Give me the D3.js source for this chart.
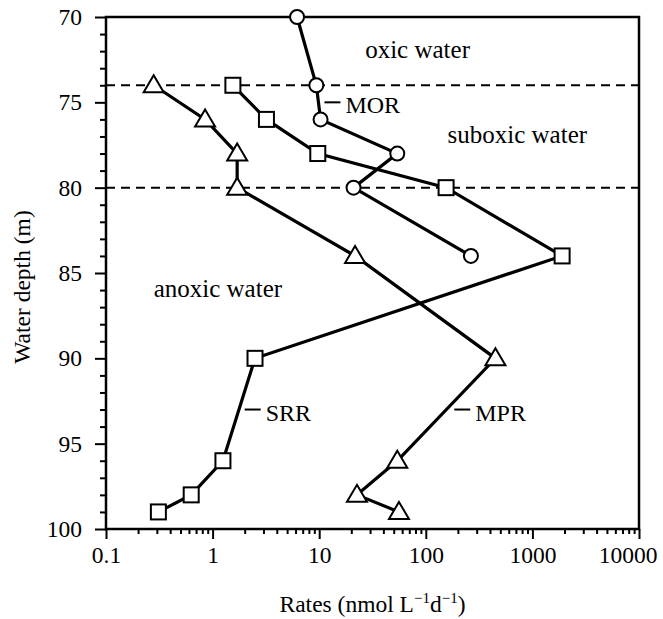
<!DOCTYPE html>
<html>
<head>
<meta charset="utf-8">
<script src="https://cdn.jsdelivr.net/npm/d3@7"></script>
<style>
  body { margin: 0; background: #fff; }
  text { font-family: "Liberation Serif", "Times New Roman", serif; fill: #000; }
</style>
</head>
<body>
<svg id="chart" width="663" height="619"></svg>
<script>
"use strict";

const width = 663
const height = 619
const margin = { top: 17, right: 24, bottom: 90, left: 106 }

// depths (m) and rates (nmol L-1 d-1)
const morDepth = [70, 74, 76, 78, 80, 84]
const morRate = [6.2, 9.4, 10.3, 54, 21, 265]

const srrDepth = [74, 76, 78, 80, 84, 90, 96, 98, 99]
const srrRate = [1.55, 3.2, 9.7, 155, 1900, 2.5, 1.25, 0.63, 0.31]

const mprDepth = [74, 76, 78, 80, 84, 90, 96, 98, 99]
const mprRate = [0.28, 0.85, 1.7, 1.7, 21.7, 450, 54, 22.6, 56]

const boundaries = [74, 80]
const xTicks = [0.1, 1, 10, 100, 1000, 10000]
const yTicks = [70, 75, 80, 85, 90, 95, 100]

const svg = d3.select("#chart")

const x = d3.scaleLog()
    .domain([0.1, 10000])
    .range([margin.left, width - margin.right])

const y = d3.scaleLinear()
    .domain([70, 100])
    .range([margin.top, height - margin.bottom])

// minor ticks
const xMinor = []
for (let p = -1; p < 4; p++) {
    for (let k = 2; k <= 9; k++) xMinor.push(k * Math.pow(10, p))
}
const yMinor = d3.range(70, 101).filter(d => d % 5 != 0)

const xAxis = d3.axisBottom(x)
    .tickValues(xTicks)
    .tickFormat(d => String(d))
    .tickSize(10)
    .tickPadding(7)

svg.append("g")
    .attr("transform", `translate(0,${y(100)})`)
    .call(xAxis)
    .call(g => g.select(".domain").remove())
    .call(g => g.selectAll("line").attr("stroke", "#000").attr("stroke-width", 2))
    .call(g => g.selectAll("text").style("font-size", "23.5px"))
    // the last label is pulled in so it stays on the page
    .call(g => g.selectAll("text").filter(d => d == 10000).attr("text-anchor", "end").attr("x", 18))

svg.append("g")
    .attr("transform", `translate(0,${y(100)})`)
    .call(d3.axisBottom(x).tickValues(xMinor).tickSize(5).tickFormat(""))
    .call(g => g.select(".domain").remove())
    .call(g => g.selectAll("line").attr("stroke", "#000").attr("stroke-width", 2))

const yAxis = d3.axisLeft(y)
    .tickValues(yTicks)
    .tickSize(11)
    .tickPadding(13)

svg.append("g")
    .attr("transform", `translate(${x(0.1)},0)`)
    .call(yAxis)
    .call(g => g.select(".domain").remove())
    .call(g => g.selectAll("line").attr("stroke", "#000").attr("stroke-width", 2))
    .call(g => g.selectAll("text").style("font-size", "23.5px"))

svg.append("g")
    .attr("transform", `translate(${x(0.1)},0)`)
    .call(d3.axisLeft(y).tickValues(yMinor).tickSize(6).tickFormat(""))
    .call(g => g.select(".domain").remove())
    .call(g => g.selectAll("line").attr("stroke", "#000").attr("stroke-width", 2))

// zone boundaries
svg.append("g")
    .selectAll("line")
    .data(boundaries)
    .join("line")
    .attr("x1", x(0.1))
    .attr("x2", x(10000))
    .attr("y1", d => y(d))
    .attr("y2", d => y(d))
    .attr("stroke", "#000")
    .attr("stroke-width", 2)
    .attr("stroke-dasharray", "9,6")

// frame
svg.append("rect")
    .attr("x", x(0.1))
    .attr("y", y(70))
    .attr("width", x(10000) - x(0.1))
    .attr("height", y(100) - y(70))
    .attr("fill", "none")
    .attr("stroke", "#000")
    .attr("stroke-width", 2.5)

const line = d3.line()
    .x(d => x(d.rate))
    .y(d => y(d.depth))

function series(depths, rates) {
    return depths.map((d, i) => ({ depth: d, rate: rates[i] }))
}

const mor = series(morDepth, morRate)
const srr = series(srrDepth, srrRate)
const mpr = series(mprDepth, mprRate)

for (const s of [mpr, srr, mor]) {
    svg.append("path")
        .datum(s)
        .attr("d", line)
        .attr("fill", "none")
        .attr("stroke", "#000")
        .attr("stroke-width", 3.2)
}

// markers
svg.append("g")
    .selectAll("path")
    .data(mpr)
    .join("path")
    .attr("transform", d => `translate(${x(d.rate)},${y(d.depth)})`)
    .attr("d", "M0,-10L10,7L-10,7Z")
    .attr("fill", "#fff")
    .attr("stroke", "#000")
    .attr("stroke-width", 2)

svg.append("g")
    .selectAll("rect")
    .data(srr)
    .join("rect")
    .attr("x", d => x(d.rate) - 7.5)
    .attr("y", d => y(d.depth) - 7.5)
    .attr("width", 15)
    .attr("height", 15)
    .attr("fill", "#fff")
    .attr("stroke", "#000")
    .attr("stroke-width", 2)

svg.append("g")
    .selectAll("circle")
    .data(mor)
    .join("circle")
    .attr("cx", d => x(d.rate))
    .attr("cy", d => y(d.depth))
    .attr("r", 7)
    .attr("fill", "#fff")
    .attr("stroke", "#000")
    .attr("stroke-width", 2)

// zone labels
const zoneLabels = [
    { text: "oxic water", rate: 27, depth: 72.4 },
    { text: "suboxic water", rate: 160, depth: 77.4 },
    { text: "anoxic water", rate: 0.28, depth: 86.4 }
]
svg.append("g")
    .selectAll("text")
    .data(zoneLabels)
    .join("text")
    .attr("x", d => x(d.rate))
    .attr("y", d => y(d.depth))
    .style("font-size", "25px")
    .text(d => d.text)

// series labels with leader dash
const seriesLabels = [
    { text: "MOR", rate: 11.2, depth: 75.0 },
    { text: "SRR", rate: 2.0, depth: 93.0 },
    { text: "MPR", rate: 185, depth: 93.0 }
]
const sl = svg.append("g")
    .selectAll("g")
    .data(seriesLabels)
    .join("g")
    .attr("transform", d => `translate(${x(d.rate)},${y(d.depth)})`)
sl.append("line")
    .attr("x1", 0).attr("x2", 16)
    .attr("y1", 0).attr("y2", 0)
    .attr("stroke", "#000")
    .attr("stroke-width", 2)
sl.append("text")
    .attr("x", 21)
    .attr("y", 11)
    .style("font-size", "24px")
    .text(d => d.text)

// axis titles
const xt = svg.append("text")
    .attr("x", (x(0.1) + x(10000)) / 2)
    .attr("y", 612)
    .attr("text-anchor", "middle")
    .style("font-size", "23.5px")
xt.append("tspan").text("Rates (nmol L")
xt.append("tspan").attr("dy", -9).style("font-size", "15px").text("\u22121")
xt.append("tspan").attr("dy", 9).text("d")
xt.append("tspan").attr("dy", -9).style("font-size", "15px").text("\u22121")
xt.append("tspan").attr("dy", 9).text(")")

svg.append("text")
    .attr("transform", `translate(30,${(y(70) + y(100)) / 2 + 14}) rotate(-90)`)
    .attr("text-anchor", "middle")
    .style("font-size", "23.5px")
    .text("Water depth (m)")
</script>
</body>
</html>
